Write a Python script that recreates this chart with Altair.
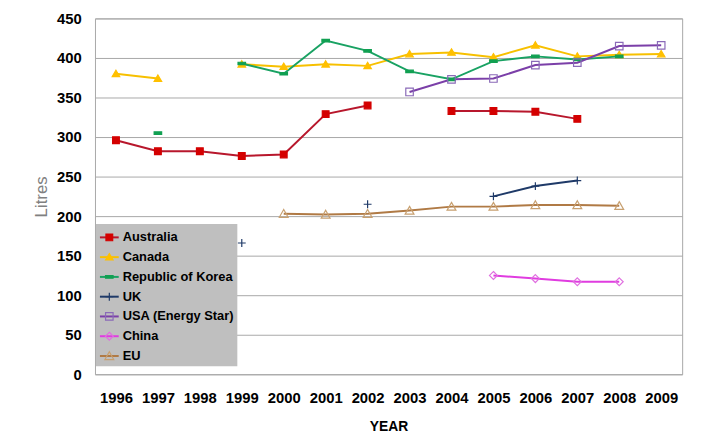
import altair as alt
import pandas as pd

YEARS = [1996, 1997, 1998, 1999, 2000, 2001, 2002, 2003, 2004, 2005, 2006, 2007, 2008, 2009]
SERIES = ["Australia", "Canada", "Republic of Korea", "UK", "USA (Energy Star)", "China", "EU"]

AUSTRALIA = [296, 282, 282, 276, 278, 329, 340, None, 333, 333, 332, 323, None, None]
CANADA = [380, 374, None, 392, 389, 392, 390, 405, 407, 401, 416, 402, 404, 405]
KOREA = [None, 305, None, 393, 380, 422, 409, 383, 373, 396, 402, 398, 402, None]
UK = [None, None, None, 166, None, None, 215, None, None, 225, 238, 245, None, None]
USA = [None, None, None, None, None, None, None, 357, 373, 374, 391, 394, 415, 416]
CHINA = [None, None, None, None, None, None, None, None, None, 125, 121, 117, 117, None]
EU = [None, None, None, None, 203, 202, 203, 207, 212, 212, 214, 214, 213, None]

VALUES = [AUSTRALIA, CANADA, KOREA, UK, USA, CHINA, EU]

LINE_COLORS = ["#b8172c", "#f7c000", "#19a263", "#1f3a68", "#7b3fa8", "#e03ce0", "#b07a45"]
MARK_STROKES = ["#d40000", "#ffc000", "#11a052", "#1f3a68", "#8a6ab8", "#e070e0", "#c8a070"]
MARK_FILLS = ["#d40000", "#ffc000", "#11a052", "transparent", "transparent", "transparent", "transparent"]
MARK_SHAPES = [
    "M-0.36,-0.36H0.36V0.36H-0.36Z",
    "M0,-0.38L0.4,0.3H-0.4Z",
    "M-0.4,-0.13H0.4V0.13H-0.4Z",
    "M-0.42,0H0.42M0,-0.42V0.42",
    "M-0.4,-0.4H0.4V0.4H-0.4Z",
    "M0,-0.42L0.42,0L0,0.42L-0.42,0Z",
    "M0,-0.45L0.47,0.38H-0.47Z",
]

rows = []
for name, vals in zip(SERIES, VALUES):
    seg = 0
    prev = None
    for yr, v in zip(YEARS, vals):
        if v is None:
            if prev is not None:
                seg += 1
            prev = None
            continue
        rows.append({"year": yr, "series": name, "value": v, "seg": f"{name}-{seg}"})
        prev = v
df = pd.DataFrame(rows)

LEG_X, LEG_Y = 1, 208
common_legend = dict(
    title=None, orient="none", legendX=LEG_X, legendY=LEG_Y,
    padding=3, rowPadding=2, symbolSize=361, labelOffset=3,
    labelFont="Liberation Sans", labelFontSize=13, labelFontWeight="bold",
)

x_enc = alt.X(
    "year:O",
    title="YEAR",
    axis=alt.Axis(
        labelAngle=0, ticks=False, tickSize=0, domain=False, grid=False,
        labelFontSize=15, labelFontWeight="bold", labelColor="#000000", labelPadding=17,
        titleFontSize=14, titleFontWeight="bold", titleColor="#000000", titlePadding=14,
    ),
)
y_enc = alt.Y(
    "value:Q",
    title="Litres",
    scale=alt.Scale(domain=[0, 450], nice=False),
    axis=alt.Axis(
        values=list(range(0, 451, 50)), ticks=False, tickSize=0, domain=False,
        grid=True, gridColor="#a8a8a8", gridWidth=1,
        labelFontSize=15, labelFontWeight="bold", labelColor="#000000", labelPadding=14,
        titleFontSize=17, titleFontWeight="normal", titleColor="#808080", titlePadding=6,
    ),
)

lines = alt.Chart(df).mark_line(strokeWidth=2).encode(
    x=x_enc,
    y=y_enc,
    color=alt.Color(
        "series:N", sort=SERIES, scale=alt.Scale(range=LINE_COLORS),
        legend=alt.Legend(
            fillColor="#bfbfbf", symbolType="stroke", symbolStrokeWidth=2,
            labelColor="#000000", zindex=1, **common_legend,
        ),
    ),
    detail="seg:N",
)

points = alt.Chart(df).mark_point(size=361, strokeWidth=1.2, opacity=1).encode(
    x=x_enc,
    y=y_enc,
    stroke=alt.Stroke(
        "series:N",
        scale=alt.Scale(domain=SERIES, range=MARK_STROKES),
        legend=alt.Legend(
            symbolStrokeWidth=1.2, labelOpacity=0, labelColor="#000000", zindex=2,
            **common_legend,
        ),
    ),
    fill=alt.Fill("series:N", scale=alt.Scale(domain=SERIES, range=MARK_FILLS)),
    shape=alt.Shape("series:N", scale=alt.Scale(domain=SERIES, range=MARK_SHAPES)),
)

chart = alt.layer(lines, points).properties(
    width=594,
    height=360,
    autosize=alt.AutoSizeParams(type="none"),
    padding={"left": 88, "top": 8, "right": 14, "bottom": 69},
).configure(
    font="Liberation Sans",
).configure_view(
    stroke="#a8a8a8", strokeWidth=1,
)

chart.save("out.html", embed_options={"renderer": "svg", "actions": False})
